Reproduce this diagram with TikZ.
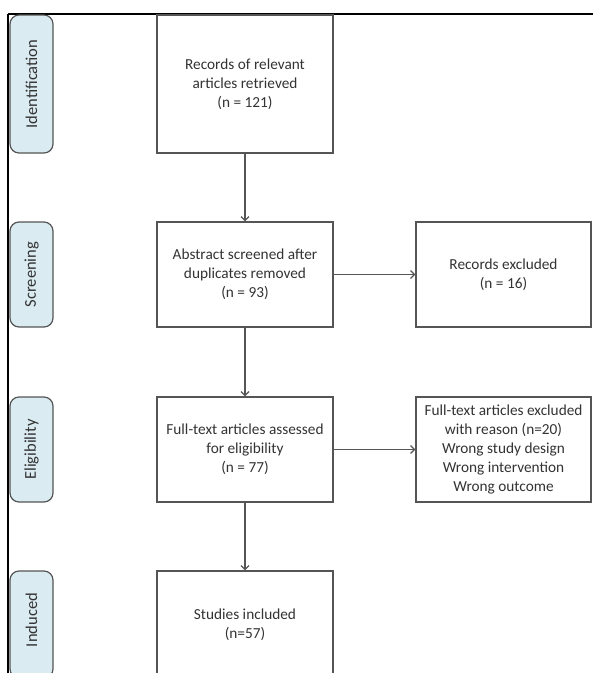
\documentclass[tikz,border=0pt]{standalone}
\usepackage{fontspec}
\setmainfont{Carlito}
\usetikzlibrary{arrows.meta}
\definecolor{boxline}{HTML}{555555}
\definecolor{txt}{HTML}{333333}
\definecolor{pillfill}{HTML}{DAEBF2}
\tikzset{
  flowbox/.style={draw=boxline, line width=1.2pt, rectangle, align=center, text=txt,
    font=\fontsize{15.3}{19.2}\selectfont, minimum width=176pt, inner sep=2pt},
  sidebox/.style={flowbox, minimum width=175pt, minimum height=105pt},
  pill/.style={draw=boxline, line width=1.2pt, fill=pillfill, rounded corners=9pt,
    minimum width=43pt},
  pilltext/.style={rotate=90, text=txt, font=\fontsize{16.5}{19}\selectfont},
  flowarrow/.style={draw=boxline, line width=1.2pt, -{Straight Barb[length=4pt,width=8pt]}}
}
\begin{document}
\begin{tikzpicture}[x=1pt, y=-1pt]
\useasboundingbox (0,0) rectangle (593,673);
\clip (0,0) rectangle (593,673);
\fill[white] (0,0) rectangle (593,673);
% frame
\draw[black, line width=2.2pt] (8,14) -- (593,14);
\draw[black, line width=1.6pt] (8,14) -- (8,673);
% phase pills
\node[pill, minimum height=138pt] (pid) at (31.5,84) {};
\node[pilltext] (tid) at (pid.center) {Identification};
\node[pill, minimum height=105pt] (psc) at (31.5,274.5) {};
\node[pilltext] (tsc) at (psc.center) {Screening};
\node[pill, minimum height=105pt] (pel) at (31.5,449.5) {};
\node[pilltext] (tel) at (pel.center) {Eligibility};
\node[pill, minimum height=107pt] (pin) at (31.5,624.5) {};
\node[pilltext] (tin) at (31.5,620) {Induced};
% main boxes
\node[flowbox, minimum height=138pt] (b1) at (245,84) {Records of relevant\\articles retrieved\\(n = 121)};
\node[flowbox, minimum height=105pt] (b2) at (245,274.5) {Abstract screened after\\duplicates removed\\(n = 93)};
\node[flowbox, minimum height=105pt] (b3) at (245,449.5) {Full-text articles assessed\\for eligibility\\(n = 77)};
\node[flowbox, minimum height=107pt] (b4) at (245,624.5) {Studies included\\(n=57)};
% side boxes
\node[sidebox] (r1) at (503.5,274.5) {Records excluded\\(n = 16)};
\node[sidebox] (r2) at (503.5,449.5) {Full-text articles excluded\\with reason (n=20)\\Wrong study design\\Wrong intervention\\Wrong outcome};
% connectors
\draw[flowarrow] (b1) -- (b2);
\draw[flowarrow] (b2) -- (b3);
\draw[flowarrow] (b3) -- (b4);
\draw[flowarrow] (b2) -- (r1);
\draw[flowarrow] (b3) -- (r2);
\end{tikzpicture}
\end{document}
